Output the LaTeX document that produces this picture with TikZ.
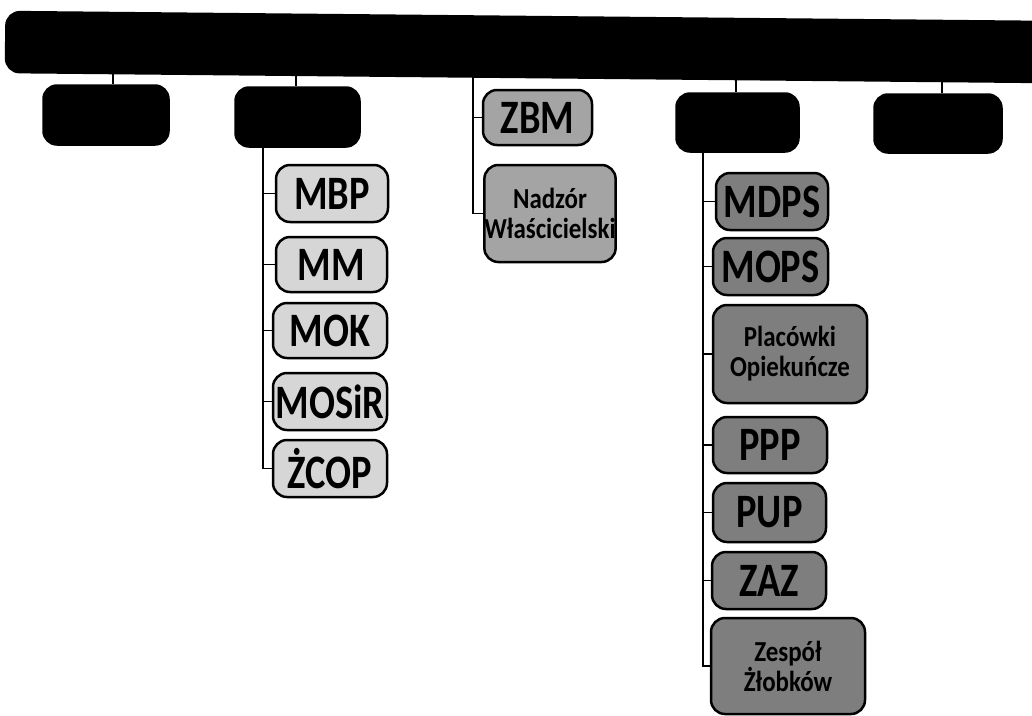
\documentclass[tikz,border=0pt]{standalone}
\usepackage{fontspec}
\setmainfont{Carlito}
\usepackage{graphicx}
\definecolor{lightbox}{HTML}{D6D6D6}
\definecolor{midbox}{HTML}{A4A4A4}
\definecolor{darkbox}{HTML}{7E7E7E}
\newcommand{\sqz}[1]{\scalebox{0.8}[1]{#1}}
\newcommand{\sqt}[1]{\scalebox{0.86}[1]{#1}}
\tikzset{
  blackbox/.style={draw=black, fill=black, rounded corners=14pt, line width=1.5pt},
  graybox/.style={draw=black, line width=2.5pt, rounded corners=14pt, inner sep=0pt,
    font=\fontsize{48}{48}\selectfont\bfseries, align=center},
  twoline/.style={graybox, font=\fontsize{29}{30}\selectfont\bfseries},
  light/.style={fill=lightbox},
  mid/.style={fill=midbox},
  dark/.style={fill=darkbox},
  conn/.style={draw=black, line width=1.8pt},
}
\begin{document}
\begin{tikzpicture}[x=1pt,y=-1pt]
\useasboundingbox (0,0) rectangle (1032,715);
\node[blackbox, minimum width=126pt, minimum height=60pt] (B1) at (106,115) {};
\node[blackbox, minimum width=125pt, minimum height=60pt] (B2) at (297.5,117) {};
\node[blackbox, minimum width=123pt, minimum height=59pt] (B4) at (737.5,122.5) {};
\node[blackbox, minimum width=128pt, minimum height=59pt] (B5) at (938,123.5) {};
\node[graybox, mid, minimum width=109pt, minimum height=55pt] (ZBM) at (537.5,117.5) {\sqz{ZBM}};
\node[twoline, mid, minimum width=128pt, minimum height=97pt] (NW) at (550,213.5) {\sqt{Nadzór}\\\sqt{Właścicielski}};
% B2 children
\node[graybox, light, minimum width=112pt, minimum height=57pt] (MBP) at (332,193.5) {\sqz{MBP}};
\node[graybox, light, minimum width=111pt, minimum height=55pt] (MM) at (331.5,264.5) {\sqz{MM}};
\node[graybox, light, minimum width=114pt, minimum height=55pt] (MOK) at (330,330.5) {\sqz{MOK}};
\node[graybox, light, minimum width=114pt, minimum height=57pt] (MOSIR) at (330,401.5) {\sqz{MOSiR}};
\node[graybox, light, minimum width=114pt, minimum height=57pt] (ZCOP) at (330,468.5) {\sqz{ŻCOP}};
% B4 children
\node[graybox, dark, minimum width=112pt, minimum height=57pt] (MDPS) at (772,201.5) {\sqz{MDPS}};
\node[graybox, dark, minimum width=115pt, minimum height=57pt] (MOPS) at (770.5,266.5) {\sqz{MOPS}};
\node[twoline, dark, minimum width=154pt, minimum height=98pt] (PO) at (790,354) {\sqt{Placówki}\\\sqt{Opiekuńcze}};
\node[graybox, dark, minimum width=114pt, minimum height=56pt] (PPP) at (770,445) {\sqz{PPP}};
\node[graybox, dark, minimum width=113pt, minimum height=59pt] (PUP) at (769.5,512.5) {\sqz{PUP}};
\node[graybox, dark, minimum width=114pt, minimum height=57pt] (ZAZ) at (769,580.5) {\sqz{ZAZ}};
\node[twoline, dark, minimum width=154pt, minimum height=96pt] (ZZ) at (788,666) {\sqt{Zespół}\\\sqt{Żłobków}};
% trunk coordinates
\coordinate (b2t) at (263,147);
\coordinate (b4t) at (703,152);
\coordinate (zt) at (473,50);
\coordinate (b1t) at (113,50);
\coordinate (b2u) at (296,50);
\coordinate (b4u) at (736,50);
\coordinate (b5u) at (942,50);
% top connectors
\draw[conn] (b1t) -- (b1t |- B1.north);
\draw[conn] (b2u) -- (b2u |- B2.north);
\draw[conn] (b4u) -- (b4u |- B4.north);
\draw[conn] (b5u) -- (b5u |- B5.north);
\draw[conn] (zt) |- (NW.west);
\draw[conn] (zt |- ZBM.west) -- (ZBM.west);
% B2 tree
\draw[conn] (b2t) |- (ZCOP.west);
\foreach \n in {MBP,MM,MOK,MOSIR} \draw[conn] (b2t |- \n.west) -- (\n.west);
% B4 tree
\draw[conn] (b4t) |- (ZZ.west);
\foreach \n in {MDPS,MOPS,PO,PPP,PUP,ZAZ} \draw[conn] (b4t |- \n.west) -- (\n.west);
% top bar (slightly tilted as in the scan)
\node[blackbox, rotate=-0.55, minimum width=1080pt, minimum height=61pt, anchor=west] (bar) at (5,42) {};
\end{tikzpicture}
\end{document}
